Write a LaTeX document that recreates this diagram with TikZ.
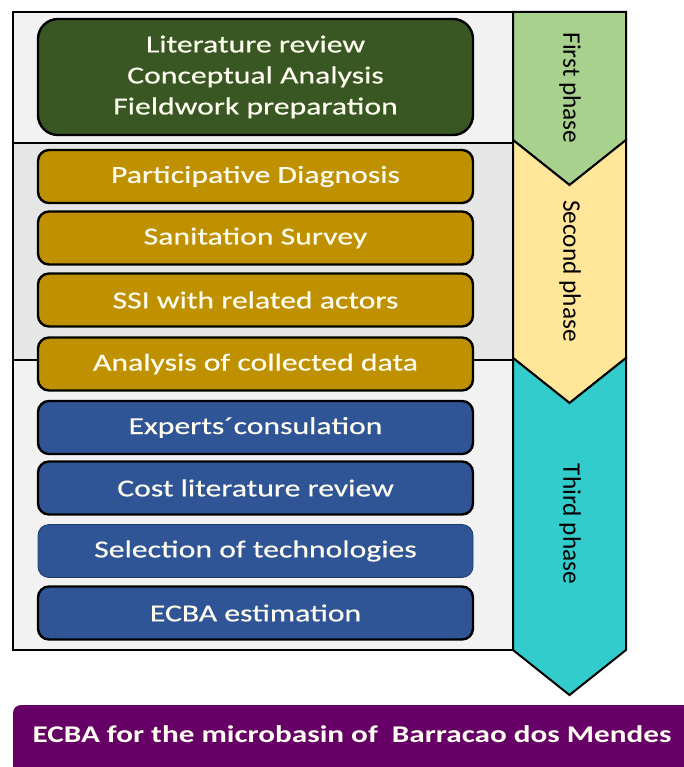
\documentclass[tikz,border=0pt]{standalone}
\usepackage{fontspec}
\setmainfont{Carlito}
\newfontfamily\boxfont[FakeStretch=1.3,FakeBold=0.4]{Carlito}
\newfontfamily\boxfontb[FakeStretch=1.3]{Carlito Bold}
\definecolor{dkgreen}{HTML}{385723}
\definecolor{gold}{HTML}{BF9000}
\definecolor{dblue}{HTML}{2F5597}
\definecolor{purp}{HTML}{660066}
\definecolor{lgreen}{HTML}{A9D18E}
\definecolor{lyellow}{HTML}{FFE699}
\definecolor{teal2}{HTML}{33CCCC}
\definecolor{bgA}{HTML}{F2F2F2}
\definecolor{bgB}{HTML}{E7E6E6}
\definecolor{cream}{HTML}{FFFDF0}
\tikzset{
  stepbox/.style={draw=black, line width=2.4pt, rounded corners=11pt, fill=#1,
    minimum width=435pt, minimum height=53pt, inner sep=0pt, outer sep=0pt,
    text=cream, font=\boxfont\fontsize{24.4}{30}\selectfont, align=center},
  phasearrow/.style={draw=black, line width=2pt, line join=miter, fill=#1},
  phaselabel/.style={rotate=-90, font=\fontsize{25.3}{28}\selectfont, text=black, inner sep=0pt},
}
\begin{document}
\begin{tikzpicture}[x=1pt,y=-1pt]
\useasboundingbox (0,0) rectangle (684,767);
% frame sections
\fill[bgA] (13,12) rectangle (513,143);
\fill[bgB] (13,143) rectangle (513,360);
\fill[bgA] (13,360) rectangle (513,650);
\draw[line width=2pt] (13,12) rectangle (513,650);
\draw[line width=2pt] (13,143) -- (513,143);
\draw[line width=2pt] (13,360) -- (513,360);
% phase arrows
\draw[phasearrow=lgreen] (513,12) -- (626,12) -- (626,140) -- (569.5,185) -- (513,140) -- cycle;
\draw[phasearrow=lyellow] (513,140) -- (569.5,185) -- (626,140) -- (626,358) -- (569.5,403) -- (513,358) -- cycle;
\draw[phasearrow=teal2] (513,358) -- (569.5,403) -- (626,358) -- (626,650) -- (569.5,695) -- (513,650) -- cycle;
\node[phaselabel] (p1) at (570,88) {First phase};
\node[phaselabel] (p2) at (570,271) {Second phase};
\node[phaselabel] (p3) at (570,524) {Third phase};
% boxes
\node[stepbox=dkgreen, rounded corners=20pt, minimum height=116pt,
  font=\boxfont\fontsize{24.4}{31}\selectfont] (lit) at (255.5,77) {Literature review\\Conceptual Analysis\\Fieldwork preparation};
\node[stepbox=gold] (pd) at (255.5,176.5) {Participative Diagnosis};
\node[stepbox=gold] (ss) at (255.5,238) {Sanitation Survey};
\node[stepbox=gold] (ssi) at (255.5,300) {SSI with related actors};
\node[stepbox=gold] (acd) at (255.5,364) {Analysis of collected data};
\node[stepbox=dblue] (ec) at (255.5,427.5) {Experts´consulation};
\node[stepbox=dblue] (clr) at (255.5,488) {Cost literature review};
\node[stepbox=dblue, line width=0.8pt, draw=dblue!70!black] (sot) at (255.5,551) {Selection of technologies};
\node[stepbox=dblue] (est) at (255.5,613) {ECBA estimation};
% final box
\fill[purp, rounded corners=8pt] (13,705) rectangle (700,790);
\node[text=cream, font=\boxfontb\fontsize{24}{28}\selectfont, inner sep=0pt] (res) at (352,734) {ECBA for the microbasin of \ Barracao dos Mendes};
\end{tikzpicture}
\end{document}
